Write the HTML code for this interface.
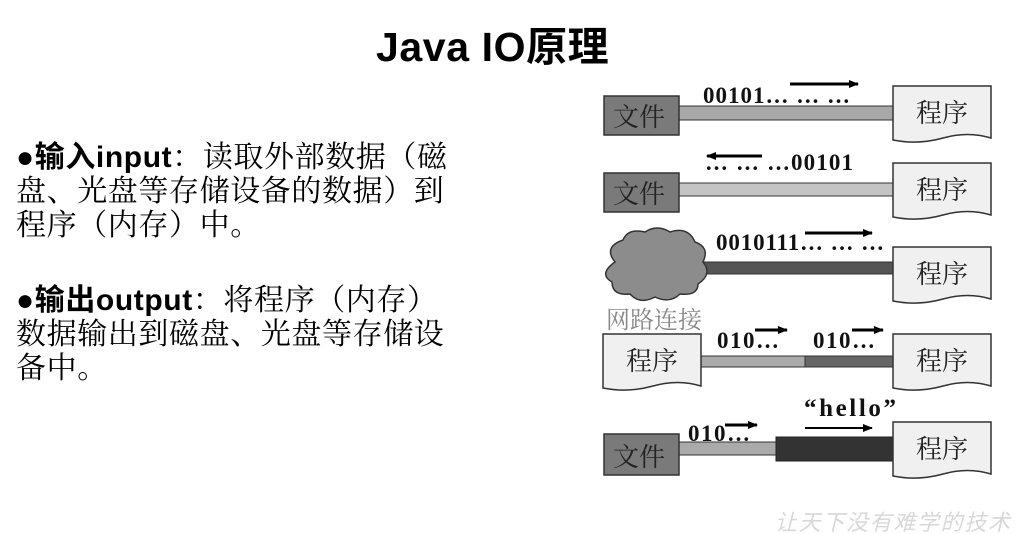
<!DOCTYPE html>
<html><head><meta charset="utf-8"><style>
body{margin:0;width:1026px;height:534px;background:#fff;position:relative;overflow:hidden;font-family:"Liberation Sans","Noto Sans CJK SC",sans-serif;}
.t{position:absolute;white-space:nowrap;font-size:30px;line-height:34px;color:#000;left:16px;font-family:"Liberation Sans","Noto Serif CJK SC",serif;letter-spacing:0.6px}
b{font-weight:bold;font-family:"Liberation Sans","Noto Sans CJK SC",sans-serif}
</style></head><body>
<div style="position:absolute;left:376px;top:24px;font-size:41px;font-weight:bold;white-space:nowrap;line-height:46px;letter-spacing:0.6px">Java IO原理</div>
<div class="t" style="top:141px"><b>●输入input</b>：读取外部数据（磁</div>
<div class="t" style="top:175px">盘、光盘等存储设备的数据）到</div>
<div class="t" style="top:209px">程序（内存）中。</div>
<div class="t" style="top:284px"><b>●输出output</b>：将程序（内存）</div>
<div class="t" style="top:318px">数据输出到磁盘、光盘等存储设</div>
<div class="t" style="top:352px">备中。</div>
<svg width="1026" height="534" style="position:absolute;left:0;top:0">
<defs>
<g id="doc"><path d="M0,0 H98 V52 Q75,45 50,52 T0,54 Z" fill="#f0f0f0" stroke="#333" stroke-width="1.5"/></g>
<marker id="ah" markerWidth="10" markerHeight="8" refX="9" refY="4" orient="auto" markerUnits="userSpaceOnUse"><path d="M0,0 L10,4 L0,8Z" fill="#000"/></marker>
</defs>
<g font-family="Liberation Serif,serif" font-weight="bold" font-size="23" fill="#111">
<rect x="679" y="106" width="214" height="14" fill="#a8a8a8" stroke="#333"/>
<rect x="604" y="96" width="75" height="39" fill="#7a7a7a" stroke="#333" stroke-width="1.5"/>
<use href="#doc" x="893" y="86"/>
<text x="703" y="103" textLength="147">00101… … …</text>
<line x1="790" y1="84" x2="858" y2="84" stroke="#000" stroke-width="3" marker-end="url(#ah)"/>
<rect x="679" y="183" width="214" height="13" fill="#c4c4c4" stroke="#333"/>
<rect x="604" y="173" width="75" height="39" fill="#7a7a7a" stroke="#333" stroke-width="1.5"/>
<use href="#doc" x="893" y="163"/>
<text x="705" y="170" textLength="148">… … …00101</text>
<line x1="762" y1="156" x2="707" y2="156" stroke="#000" stroke-width="3" marker-end="url(#ah)"/>
<rect x="700" y="262" width="193" height="12" fill="#555" stroke="#333"/>
<path d="M615,262 q-12,-15 8,-22 q5,-12 22,-8 q12,-8 25,0 q18,-6 25,10 q15,5 8,20 q10,12 -5,22 q0,12 -18,10 q-10,10 -25,3 q-15,8 -25,-3 q-18,2 -18,-12 q-14,-8 3,-20z" fill="#8c8c8c" stroke="#333" stroke-width="1.5"/>
<use href="#doc" x="893" y="247"/>
<text x="716" y="250" textLength="168">0010111… … …</text>
<line x1="805" y1="233" x2="872" y2="233" stroke="#000" stroke-width="3" marker-end="url(#ah)"/>
<text x="606" y="328" font-family="Liberation Sans,Noto Serif CJK SC,serif" font-weight="normal" font-size="24" fill="#888">网路连接</text>
<rect x="700" y="356" width="105" height="11" fill="#aaa" stroke="#333"/>
<rect x="805" y="356" width="88" height="11" fill="#666" stroke="#333"/>
<use href="#doc" x="603" y="334"/>
<use href="#doc" x="893" y="334"/>
<text x="717" y="348" textLength="62">010…</text>
<text x="813" y="348" textLength="62">010…</text>
<line x1="755" y1="330" x2="787" y2="330" stroke="#000" stroke-width="3" marker-end="url(#ah)"/>
<line x1="852" y1="330" x2="883" y2="330" stroke="#000" stroke-width="3" marker-end="url(#ah)"/>
<rect x="679" y="442" width="97" height="13" fill="#aaa" stroke="#333"/>
<rect x="776" y="437" width="117" height="24" fill="#333" stroke="#222"/>
<rect x="604" y="434" width="75" height="41" fill="#7a7a7a" stroke="#333" stroke-width="1.5"/>
<use href="#doc" x="893" y="422"/>
<text x="688" y="441" textLength="62">010…</text>
<line x1="725" y1="425" x2="757" y2="425" stroke="#000" stroke-width="3" marker-end="url(#ah)"/>
<text x="804" y="416" font-size="25" textLength="92">“hello”</text>
<line x1="805" y1="428" x2="872" y2="428" stroke="#000" stroke-width="2" marker-end="url(#ah)"/>
</g>
<g font-family="Liberation Sans,Noto Serif CJK SC,serif" font-size="26" fill="#222">
<text x="613" y="126">文件</text><text x="613" y="203">文件</text><text x="613" y="466">文件</text>
<text x="916" y="122">程序</text><text x="916" y="199">程序</text><text x="916" y="283">程序</text>
<text x="916" y="370">程序</text><text x="916" y="458">程序</text><text x="626" y="370">程序</text>
</g>
<text x="775" y="530" font-family="Noto Sans CJK SC,sans-serif" font-size="22" fill="#d8d8d8" font-style="italic" textLength="235">让天下没有难学的技术</text>
</svg>
</body></html>
